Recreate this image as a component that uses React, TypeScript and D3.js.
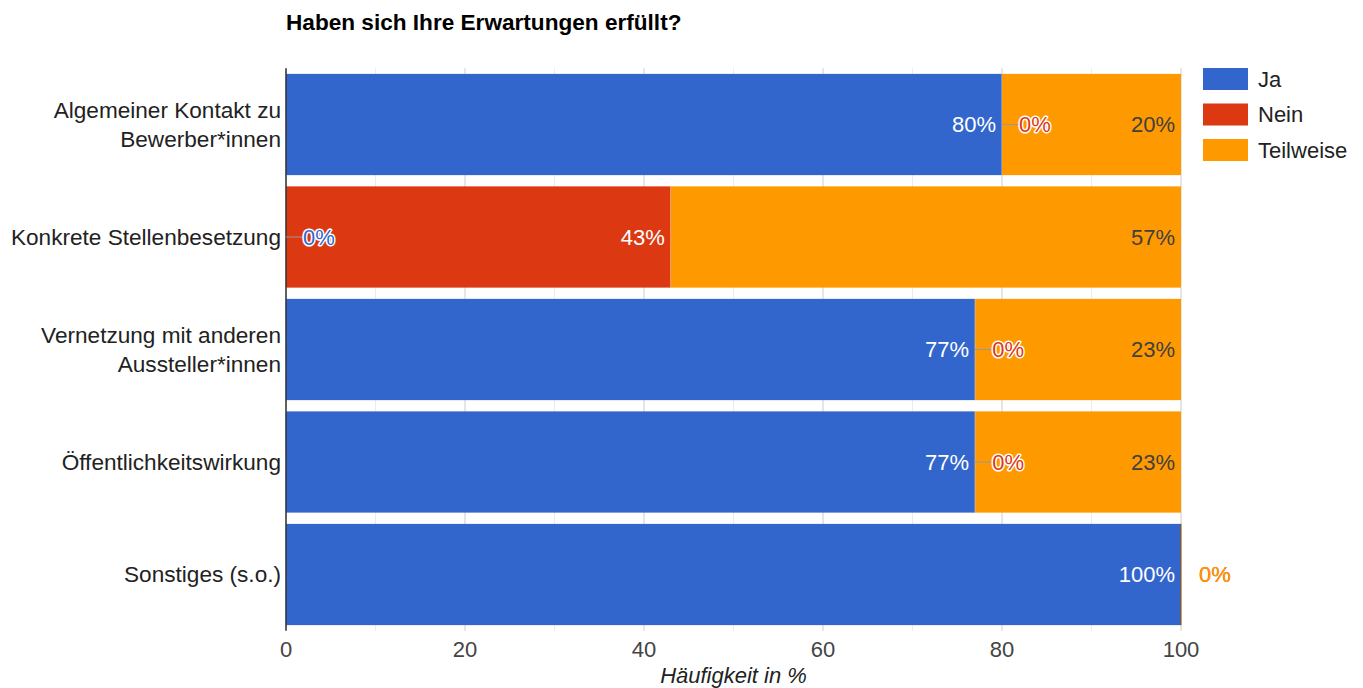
import React from "react";
import * as d3 from "d3";

const categories = [
  ["Algemeiner Kontakt zu", "Bewerber*innen"],
  ["Konkrete Stellenbesetzung"],
  ["Vernetzung mit anderen", "Aussteller*innen"],
  ["Öffentlichkeitswirkung"],
  ["Sonstiges (s.o.)"],
];
const seriesNames = ["Ja", "Nein", "Teilweise"];
const seriesColors = ["#3366cc", "#dc3912", "#ff9900"];
const ja = [80, 0, 77, 77, 100];
const nein = [0, 43, 0, 0, 0];
const teilweise = [20, 57, 23, 23, 0];
const ticks = [0, 20, 40, 60, 80, 100];
const minorTicks = [10, 30, 50, 70, 90];
const title = "Haben sich Ihre Erwartungen erfüllt?";
const axisTitle = "Häufigkeit in %";

const FONT = "Arial, 'Liberation Sans', sans-serif";
const FS = 22;
const FS_CAT = 22.6;

export default function App() {
  const W = 1363, H = 688;
  const left = 286, right = 1181, top = 68.25, bottom = 630.75;
  const x = d3.scaleLinear().domain([0, 100]).range([left, right]);
  const y = d3.scaleBand().domain(categories.map((_, i) => String(i))).range([top, bottom]).paddingInner(0.1).paddingOuter(0.05);
  const values = [ja, nein, teilweise];
  const stack = d3.stack<number>().keys(["0", "1", "2"]).value((i, k) => values[+k][i]);
  const stacked = stack(categories.map((_, i) => i));
  const labelColor = ["#ffffff", "#ffffff", "#404040"];

  const marks: any[] = [];
  const labels: any[] = [];
  stacked.forEach((layer, s) => {
    layer.forEach((d, i) => {
      const x0 = x(d[0]), x1 = x(d[1]);
      const yb = y(String(i))!;
      const bh = y.bandwidth();
      const cy = yb + bh / 2;
      const v = values[s][i];
      if (v > 0) {
        marks.push(<rect key={`r${s}-${i}`} x={x0} y={yb} width={x1 - x0} height={bh} fill={seriesColors[s]} />);
        if (x1 < right - 0.5) {
          marks.push(<line key={`sep${s}-${i}`} x1={x1} x2={x1} y1={yb} y2={yb + bh} stroke="#ffffff" strokeWidth={1} opacity={0.6} />);
        }
        labels.push(
          <text key={`l${s}-${i}`} x={x1 - 6} y={cy} dy="0.35em" textAnchor="end" fontSize={FS} fill={labelColor[s]} fontFamily={FONT}>
            {v}%
          </text>
        );
      } else {
        const outside = x0 >= right - 0.5;
        if (outside) {
          labels.push(
            <g key={`z${s}-${i}`}>
              <line x1={x0 + 0.5} x2={x0 + 0.5} y1={yb} y2={yb + bh} stroke={seriesColors[s]} strokeWidth={1} />
              <text x={x0 + 18} y={cy} dy="0.35em" textAnchor="start" fontSize={FS} fill={seriesColors[s]} fontFamily={FONT}>
                {v}%
              </text>
            </g>
          );
        } else {
          const lx = x0 + 17;
          labels.push(
            <g key={`z${s}-${i}`}>
              <line x1={x0} x2={lx} y1={cy} y2={cy} stroke="#999999" strokeWidth={1} />
              <text x={lx} y={cy} dy="0.35em" textAnchor="start" fontSize={FS} fill={seriesColors[s]} stroke="#ffffff" strokeWidth={3} paintOrder="stroke" strokeLinejoin="round" fontFamily={FONT}>
                {v}%
              </text>
            </g>
          );
        }
      }
    });
  });

  return (
    <svg width={W} height={H} style={{ position: "absolute", left: 0, top: 0, background: "#fff" }}>
      <text x={286} y={30} fontSize={FS_CAT} fontWeight="bold" fill="#000" fontFamily={FONT}>{title}</text>
      {minorTicks.map((t) => (
        <line key={`m${t}`} x1={x(t)} x2={x(t)} y1={top} y2={bottom} stroke="#ebebeb" />
      ))}
      {ticks.map((t) => (
        <line key={`g${t}`} x1={x(t)} x2={x(t)} y1={top} y2={bottom} stroke="#cccccc" />
      ))}
      {marks}
      <line x1={left} x2={left} y1={top} y2={bottom} stroke="#333333" strokeWidth={1.5} />
      {labels}
      {ticks.map((t) => (
        <text key={`t${t}`} x={x(t)} y={657} textAnchor="middle" fontSize={FS} fill="#444444" fontFamily={FONT}>{t}</text>
      ))}
      <text x={(left + right) / 2} y={683} textAnchor="middle" fontSize={FS} fontStyle="italic" fill="#222222" fontFamily={FONT}>{axisTitle}</text>
      {categories.map((lines, i) => {
        const cy = y(String(i))! + y.bandwidth() / 2;
        const n = lines.length;
        return (
          <text key={`c${i}`} x={281} textAnchor="end" fontSize={FS_CAT} fill="#222222" fontFamily={FONT}>
            {lines.map((ln, j) => (
              <tspan key={j} x={281} y={cy + (j - (n - 1) / 2) * 28.5} dy="0.35em">{ln}</tspan>
            ))}
          </text>
        );
      })}
      {seriesNames.map((name, s) => (
        <g key={`lg${s}`}>
          <rect x={1203} y={68 + s * 35.5} width={45} height={22} fill={seriesColors[s]} />
          <text x={1258} y={79 + s * 35.5} dy="0.35em" fontSize={FS} fill="#222222" fontFamily={FONT}>{name}</text>
        </g>
      ))}
    </svg>
  );
}
